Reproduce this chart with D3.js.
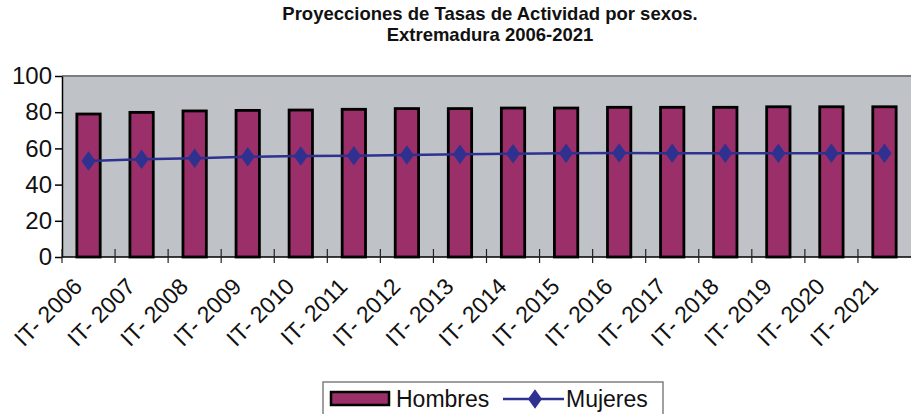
<!DOCTYPE html>
<html>
<head>
<meta charset="utf-8">
<script src="https://cdn.jsdelivr.net/npm/d3@7"></script>
<style>
  html, body { margin: 0; padding: 0; background: #fff; }
  svg { display: block; font-family: "Liberation Sans", Arial, sans-serif; }
</style>
</head>
<body>
<div id="chart"></div>
<script>
// data
const periods = ["IT- 2006", "IT- 2007", "IT- 2008", "IT- 2009", "IT- 2010", "IT- 2011",
  "IT- 2012", "IT- 2013", "IT- 2014", "IT- 2015", "IT- 2016", "IT- 2017",
  "IT- 2018", "IT- 2019", "IT- 2020", "IT- 2021"];
const hombres = [79.0, 79.9, 80.7, 81.0, 81.2, 81.6, 82.0, 82.0, 82.3, 82.3, 82.7, 82.7, 82.7, 83.0, 83.0, 83.0];
const mujeres = [53.0, 54.0, 54.5, 55.4, 55.8, 56.0, 56.4, 56.7, 57.1, 57.3, 57.4, 57.3, 57.3, 57.3, 57.3, 57.3];
const yTicks = [0, 20, 40, 60, 80, 100];
const titleLines = ["Proyecciones de Tasas de Actividad por sexos.", "Extremadura 2006-2021"];
const seriesNames = ["Hombres", "Mujeres"];

const W = 915, H = 414;
const m = { top: 76, right: 4, bottom: 157, left: 62 };
const barColor = "#9b2f69";
const lineColor = "#2f3191";
const plotBg = "#bfc3c7";

const svg = d3.select("#chart").append("svg")
  .attr("width", W).attr("height", H)
  .attr("viewBox", [0, 0, W, H]);

// title
svg.append("g").selectAll("text")
  .data(titleLines)
  .join("text")
  .attr("x", 490)
  .attr("y", (d, i) => 20 + i * 21)
  .attr("text-anchor", "middle")
  .attr("font-size", 18.5)
  .attr("font-weight", 700)
  .attr("fill", "#111")
  .text(d => d);

const x = d3.scaleBand()
  .domain(periods)
  .range([m.left, W - m.right]);

const y = d3.scaleLinear()
  .domain([0, 100])
  .range([H - m.bottom, m.top]);

// plot area
svg.append("rect")
  .attr("x", m.left).attr("y", m.top)
  .attr("width", W - m.right - m.left)
  .attr("height", y(0) - m.top)
  .attr("fill", plotBg);
svg.append("line")
  .attr("x1", m.left).attr("x2", W - m.right)
  .attr("y1", m.top).attr("y2", m.top)
  .attr("stroke", "#7d7d7d").attr("stroke-width", 2);

// bars
const bw = x.bandwidth() * 0.44;
svg.append("g").selectAll("rect")
  .data(hombres)
  .join("rect")
  .attr("x", (d, i) => x(periods[i]) + (x.bandwidth() - bw) / 2)
  .attr("y", d => y(d))
  .attr("width", bw)
  .attr("height", d => y(0) - y(d))
  .attr("fill", barColor)
  .attr("stroke", "#000")
  .attr("stroke-width", 2.8);

// y axis
const gy = svg.append("g")
  .attr("transform", `translate(${m.left},0)`)
  .call(d3.axisLeft(y).tickValues(yTicks).tickSize(7).tickSizeOuter(0).tickPadding(3));
gy.select(".domain").attr("stroke", "#000").attr("stroke-width", 1.5);
gy.selectAll(".tick line").attr("stroke", "#000").attr("stroke-width", 1.5);
gy.selectAll(".tick text")
  .attr("font-size", 24)
  .attr("font-family", "'Liberation Sans', Arial, sans-serif")
  .attr("fill", "#111");

// x axis
const gx = svg.append("g")
  .attr("transform", `translate(0,${y(0)})`);
gx.append("line")
  .attr("x1", m.left).attr("x2", W - m.right)
  .attr("stroke", "#000").attr("stroke-width", 1.5);
gx.selectAll("line.tk")
  .data(periods)
  .join("line")
  .attr("class", "tk")
  .attr("x1", d => x(d)).attr("x2", d => x(d))
  .attr("y1", -8).attr("y2", 6)
  .attr("stroke", "#222").attr("stroke-width", 1.2);
gx.selectAll("text")
  .data(periods)
  .join("text")
  .attr("text-anchor", "end")
  .attr("font-size", 23)
  .attr("fill", "#111")
  .attr("transform", d => `translate(${x(d) + x.bandwidth() / 2 - 5},${31}) rotate(-45)`)
  .text(d => d);

// mujeres line
const line = d3.line()
  .x((d, i) => x(periods[i]) + x.bandwidth() / 2)
  .y(d => y(d));
svg.append("path")
  .datum(mujeres)
  .attr("fill", "none")
  .attr("stroke", lineColor)
  .attr("stroke-width", 2.5)
  .attr("d", line);
const diamond = d3.symbol().type(d3.symbolDiamond).size(110);
svg.append("g").selectAll("path")
  .data(mujeres)
  .join("path")
  .attr("d", diamond)
  .attr("transform", (d, i) => `translate(${x(periods[i]) + x.bandwidth() / 2},${y(d)}) scale(1.25,1)`)
  .attr("fill", lineColor);

// legend
const lg = svg.append("g");
lg.append("rect")
  .attr("x", 323).attr("y", 382)
  .attr("width", 340).attr("height", 40)
  .attr("fill", "#fff")
  .attr("stroke", "#808080").attr("stroke-width", 1.5);
lg.append("rect")
  .attr("x", 331).attr("y", 392)
  .attr("width", 58).attr("height", 13)
  .attr("fill", barColor)
  .attr("stroke", "#000").attr("stroke-width", 2.5);
lg.append("text")
  .attr("x", 396).attr("y", 407)
  .attr("font-size", 23).attr("fill", "#111")
  .text(seriesNames[0]);
lg.append("line")
  .attr("x1", 503).attr("x2", 564)
  .attr("y1", 399).attr("y2", 399)
  .attr("stroke", lineColor).attr("stroke-width", 2.5);
lg.append("path")
  .attr("d", diamond)
  .attr("transform", "translate(535,399) scale(1.25,1)")
  .attr("fill", lineColor);
lg.append("text")
  .attr("x", 566).attr("y", 407)
  .attr("font-size", 23).attr("fill", "#111")
  .text(seriesNames[1]);
</script>
</body>
</html>
